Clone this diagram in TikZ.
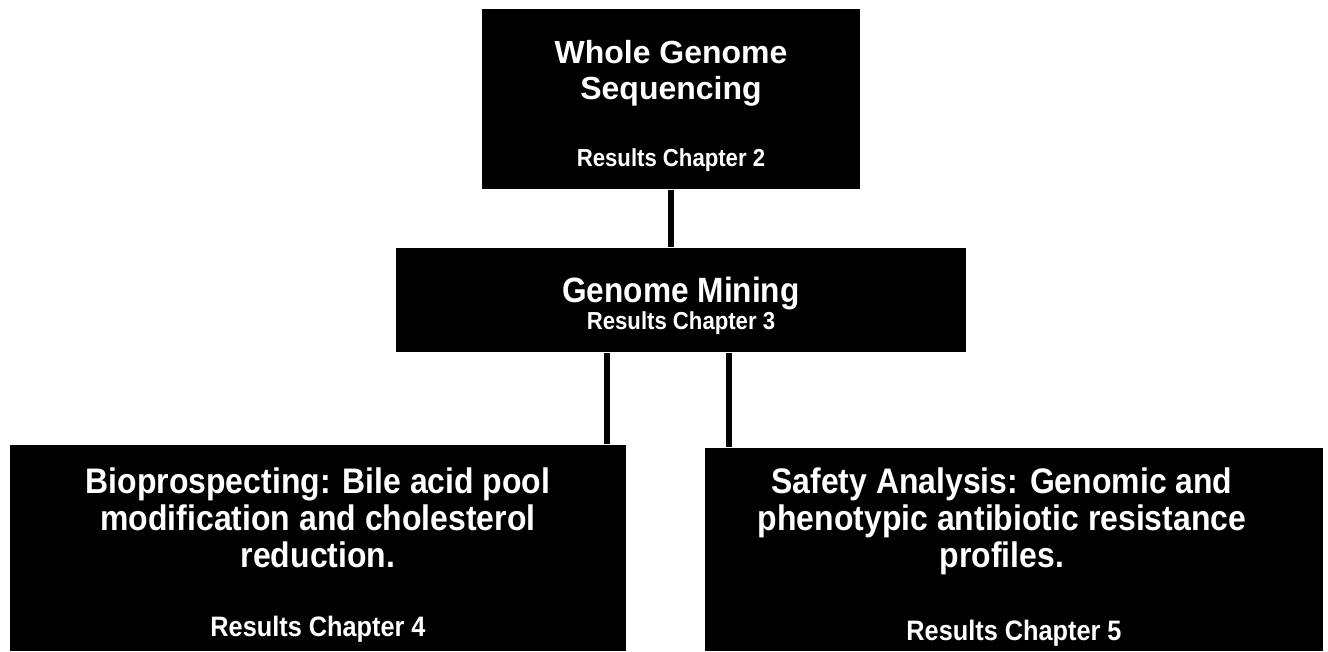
\documentclass[tikz,border=0pt]{standalone}
\usepackage{fontspec}
\setmainfont{Liberation Sans}
\newfontfamily\narrowsans{Liberation Sans}[FakeStretch=0.9]
\usetikzlibrary{positioning}

\begin{document}
\begin{tikzpicture}[
    box/.style={fill=black, draw=none, inner sep=0pt},
    txt/.style={text=white, inner sep=0pt, align=center},
    link/.style={line width=0.06cm}
]
    \useasboundingbox (0,0) rectangle (13.28,6.51);
    % boxes
    \node[box, minimum width=3.78cm, minimum height=1.80cm] (wgs) at (6.71,5.52) {};
    \node[box, minimum width=5.70cm, minimum height=1.04cm] (mining) at (6.81,3.51) {};
    \node[box, minimum width=6.16cm, minimum height=2.06cm] (bio) at (3.18,1.03) {};
    \node[box, minimum width=6.18cm, minimum height=2.03cm] (safety) at (10.14,1.015) {};
    % texts
    \node[txt, font=\fontsize{9.1}{10.24}\selectfont\bfseries, below=0.31cm of wgs.north] (wgsname) {Whole Genome\\Sequencing};
    \node[txt, font=\narrowsans\fontsize{7}{8.4}\selectfont\bfseries, above=0.17cm of wgs.south] (wgsch) {Results Chapter 2};
    \node[txt, font=\narrowsans\fontsize{10}{10.5}\selectfont\bfseries, below=0.295cm of mining.north] (miningname) {Genome Mining};
    \node[txt, font=\narrowsans\fontsize{7}{8.4}\selectfont\bfseries, above=0.17cm of mining.south] (miningch) {Results Chapter 3};
    \node[txt, font=\narrowsans\fontsize{10.1}{10.53}\selectfont\bfseries, below=0.23cm of bio.north] (bioname) {Bioprospecting: Bile acid pool\\modification and cholesterol\\reduction.};
    \node[txt, font=\narrowsans\fontsize{8}{9.6}\selectfont\bfseries, above=0.09cm of bio.south] (bioch) {Results Chapter 4};
    \node[txt, font=\narrowsans\fontsize{10.1}{10.53}\selectfont\bfseries, below=0.20cm of safety.north, xshift=-0.12cm] (safetyname) {Safety Analysis: Genomic and\\phenotypic antibiotic resistance\\profiles.};
    \node[txt, font=\narrowsans\fontsize{8}{9.6}\selectfont\bfseries, above=0.05cm of safety.south] (safetych) {Results Chapter 5};
    % connectors
    \draw[link] (wgs.south) -- (wgs.south |- mining.north);
    \draw[link] ([xshift=-0.74cm]mining.south) -- ([xshift=-0.74cm]mining.south |- bio.north);
    \draw[link] ([xshift=0.48cm]mining.south) -- ([xshift=0.48cm]mining.south |- safety.north);
\end{tikzpicture}
\end{document}
